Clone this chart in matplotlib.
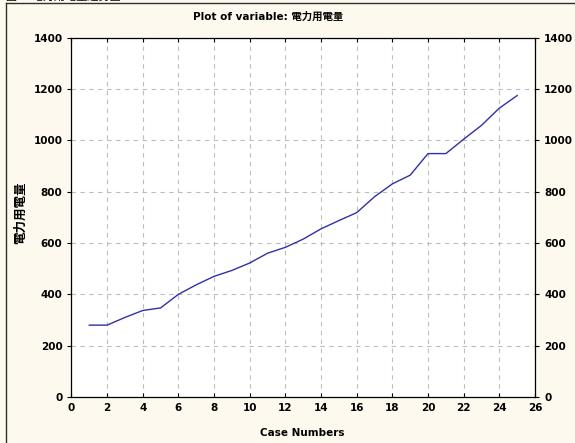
import matplotlib
matplotlib.use("Agg")
import matplotlib.pyplot as plt
from matplotlib.lines import Line2D

plt.rcParams['font.family'] = ['DejaVu Sans', 'Noto Sans CJK TC']

# data
case_numbers = list(range(1, 26))
usage = [280, 280, 310, 337, 347, 400, 437, 470, 493, 522,
         560, 583, 615, 655, 687, 718, 780, 830, 864, 948,
         948, 1004, 1058, 1125, 1174]
x_ticks = list(range(0, 27, 2))
y_ticks = list(range(0, 1401, 200))

title = "Plot of variable: 電力用電量"
y_label = "電力用電量"
x_label = "Case Numbers"

bg = "#FDF9EE"
fig = plt.figure(figsize=(5.75, 4.43), dpi=100, facecolor=bg)
ax = fig.add_axes([0.1243, 0.1038, 0.8061, 0.8115])
ax.set_facecolor("white")

ax.plot(case_numbers, usage, color="#3030A8", lw=1.0)

ax.set_xlim(0, 26)
ax.set_ylim(0, 1400)
ax.set_xticks(x_ticks)
ax.set_yticks(y_ticks)
ax.grid(True, color="#BDBDBD", ls=(0, (4, 4)), lw=0.8)
ax.set_axisbelow(True)

ax.tick_params(axis="x", direction="in", length=3, labelsize=7.5, pad=4,
               top=True)
ax.tick_params(axis="y", direction="out", length=3, labelsize=7.5,
               right=True, labelright=True)
for lab in ax.get_xticklabels() + ax.get_yticklabels():
    lab.set_fontweight("bold")
for sp in ax.spines.values():
    sp.set_linewidth(0.9)

fig.text(0.466, 0.962, title, ha="center", va="center", fontsize=7.5,
         fontweight="bold")
fig.text(0.525, 0.022, x_label, ha="center", va="center", fontsize=7.5,
         fontweight="bold")
fig.text(0.035, 0.52, y_label, ha="center", va="center", rotation=90,
         fontsize=9, fontweight="bold")

# caption above the panel, cut off at the top edge as in the reference
fig.text(0.01, 1.008, "圖五 電力用電量趨勢圖", ha="left", va="center",
         fontsize=8, color="black")

# panel frame (left and top edges)
fig.add_artist(Line2D([6 / 575, 6 / 575], [0, 1 - 3 / 443],
                      color="#303030", lw=1.0, transform=fig.transFigure))
fig.add_artist(Line2D([6 / 575, 1], [1 - 3 / 443, 1 - 3 / 443],
                      color="#303030", lw=1.0, transform=fig.transFigure))

fig.savefig("out.png", dpi=100, facecolor=bg)
